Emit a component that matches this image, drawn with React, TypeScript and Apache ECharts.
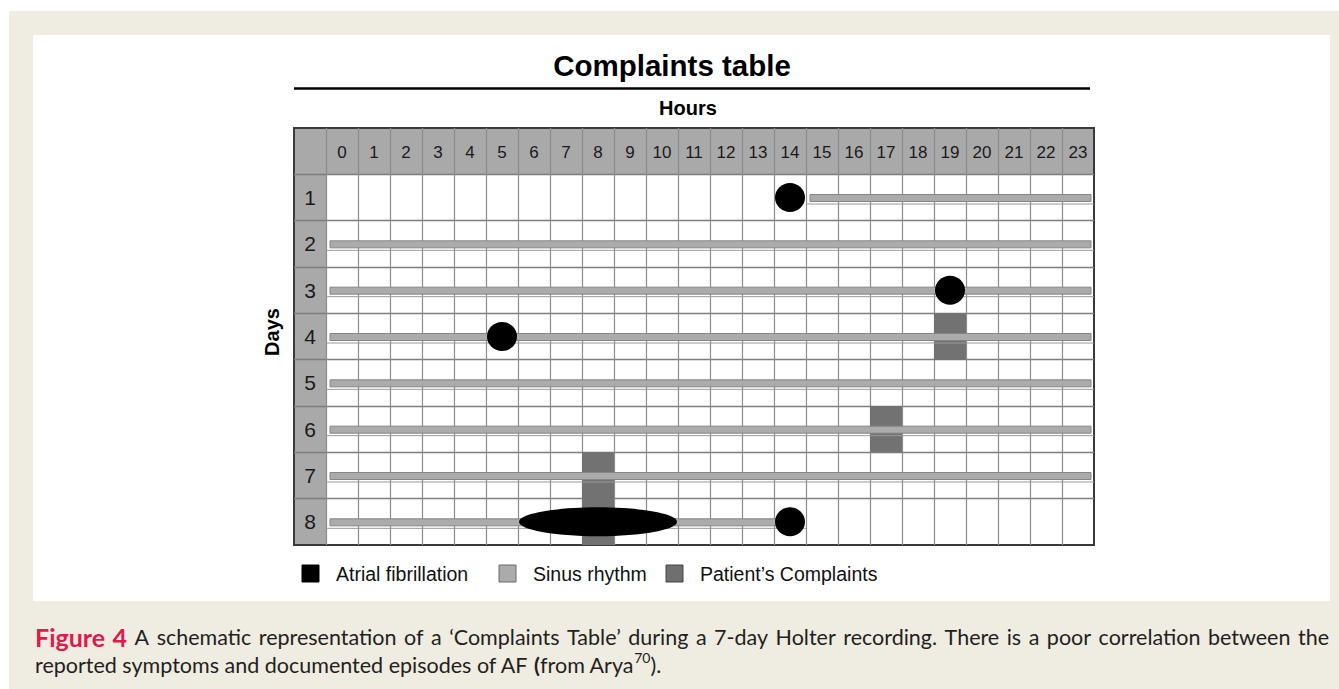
import React, { useEffect, useRef } from "react";
import * as echarts from "echarts";

// ---- tick labels ----
const hourLabels = ["", "0", "1", "2", "3", "4", "5", "6", "7", "8", "9", "10", "11", "12", "13", "14", "15", "16", "17", "18", "19", "20", "21", "22", "23"];
const dayLabels = ["", "1", "2", "3", "4", "5", "6", "7", "8"];

// ---- series values: [day, startHour, endHour] ----
const sinusRhythm = [
  [1, 15, 24],
  [2, 0, 24],
  [3, 0, 24],
  [4, 0, 24],
  [5, 0, 24],
  [6, 0, 24],
  [7, 0, 24],
  [8, 0, 14.3],
];
const atrialFibrillation = [
  [1, 14, 15],
  [3, 19, 20],
  [4, 5, 6],
  [8, 6, 11],
  [8, 14, 15],
];
// [day, hour]
const complaints = [
  [4, 19],
  [6, 17],
  [7, 8],
  [8, 8],
];

const legendItems = ["Atrial fibrillation", "Sinus rhythm", "Patient\u2019s Complaints"];
const captionLabel = ["Figure", "4"];
const captionLine1 =
  "A schematic representation of a \u2018Complaints Table\u2019 during a 7-day Holter recording. There is a poor correlation between the";
const captionLine2 = "reported symptoms and documented episodes of AF";

const SANS = "'Liberation Sans', Arial, Helvetica, sans-serif";
const CAP = "Lato, 'Open Sans', sans-serif";

function measure(text: string, font: string) {
  const c = document.createElement("canvas");
  const ctx = c.getContext("2d")!;
  ctx.font = font;
  return ctx.measureText(text).width;
}

export default function App() {
  const ref = useRef<HTMLDivElement>(null);

  useEffect(() => {
    const chart = echarts.init(ref.current!, null, { renderer: "svg" });

    // caption layout (justified first line)
    const capSize = 21.5;
    const fontN = `${capSize}px ${CAP}`;
    const fontB = `bold 25px ${CAP}`;
    const fontParen = `bold ${capSize}px ${CAP}`;
    const words: { t: string; b: boolean }[] = [
      ...captionLabel.map((t) => ({ t, b: true })),
      ...captionLine1.split(" ").map((t) => ({ t, b: false })),
    ];
    const capLeft = 35;
    const capRight = 1329;
    const widths = words.map((w) => measure(w.t, w.b ? fontB : fontN));
    const total = widths.reduce((a, b) => a + b, 0);
    const gap = (capRight - capLeft - total) / (words.length - 1);
    const captionEls: any[] = [];
    let cx = capLeft;
    words.forEach((w, i) => {
      captionEls.push({
        type: "text",
        x: cx,
        y: 637,
        style: {
          text: w.t,
          fill: w.b ? "#e0194b" : "#231f20",
          font: w.b ? fontB : fontN,
          textAlign: "left",
          textVerticalAlign: "middle",
        },
      });
      cx += widths[i] + gap;
    });
    const l2a = captionLine2 + " ";
    const wA = measure(l2a, fontN);
    const wParen = measure("(", fontParen);
    const wFrom = measure("from Arya", fontN);
    const supFont = `14px ${CAP}`;
    const wSup = measure("70", supFont);
    const y2 = 665;
    captionEls.push(
      { type: "text", x: capLeft, y: y2, style: { text: l2a, fill: "#231f20", font: fontN, textVerticalAlign: "middle" } },
      { type: "text", x: capLeft + wA, y: y2, style: { text: "(", fill: "#231f20", font: fontParen, textVerticalAlign: "middle" } },
      { type: "text", x: capLeft + wA + wParen, y: y2, style: { text: "from Arya", fill: "#231f20", font: fontN, textVerticalAlign: "middle" } },
      { type: "text", x: capLeft + wA + wParen + wFrom, y: y2 - 8, style: { text: "70", fill: "#231f20", font: supFont, textVerticalAlign: "middle" } },
      { type: "text", x: capLeft + wA + wParen + wFrom + wSup, y: y2, style: { text: ").", fill: "#231f20", font: fontN, textVerticalAlign: "middle" } }
    );

    const legendX = [302, 499, 666];
    const legendFill = ["#000000", "#ababab", "#6f6f6f"];
    const legendStroke = ["#000000", "#6a6a6a", "#444444"];
    const legendEls: any[] = [];
    legendItems.forEach((name, i) => {
      legendEls.push({
        type: "rect",
        shape: { x: legendX[i], y: 565, width: 17, height: 17 },
        style: { fill: legendFill[i], stroke: legendStroke[i], lineWidth: 1 },
      });
      legendEls.push({
        type: "text",
        x: legendX[i] + 34,
        y: 574,
        style: { text: name, fill: "#111", font: `19.5px ${SANS}`, textVerticalAlign: "middle" },
      });
    });

    const option: any = {
      animation: false,
      backgroundColor: "#ffffff",
      grid: {
        left: 294,
        top: 128,
        width: 800,
        height: 417,
        show: true,
        borderColor: "#3a3a3a",
        borderWidth: 2,
        backgroundColor: "transparent",
      },
      xAxis: [
        {
          type: "value",
          min: -1,
          max: 24,
          interval: 1,
          position: "bottom",
          axisLabel: { show: false },
          axisTick: { show: false },
          axisLine: { show: false },
          splitLine: { show: true, showMinLine: false, showMaxLine: false, lineStyle: { color: "#8c8c8c", width: 1.2 } },
        },
        {
          type: "category",
          data: hourLabels,
          position: "top",
          boundaryGap: true,
          axisTick: { show: false },
          axisLine: { show: false },
          splitLine: { show: false },
          axisLabel: {
            inside: true,
            interval: 0,
            margin: 24,
            verticalAlign: "middle",
            fontSize: 17,
            color: "#1a1a1a",
            fontFamily: SANS,
          },
        },
      ],
      yAxis: [
        {
          type: "value",
          min: -1,
          max: 8,
          interval: 1,
          inverse: true,
          position: "right",
          axisLabel: { show: false },
          axisTick: { show: false },
          axisLine: { show: false },
          splitLine: { show: true, showMinLine: false, showMaxLine: false, lineStyle: { color: "#7e7e7e", width: 1.4 } },
        },
        {
          type: "category",
          data: dayLabels,
          inverse: true,
          position: "left",
          boundaryGap: true,
          axisTick: { show: false },
          axisLine: { show: false },
          splitLine: { show: false },
          axisLabel: {
            inside: true,
            interval: 0,
            margin: 16,
            align: "center",
            fontSize: 21,
            color: "#1a1a1a",
            fontFamily: SANS,
          },
        },
      ],
      series: [
        {
          type: "custom",
          name: "headerCells",
          z: -1,
          xAxisIndex: 0,
          yAxisIndex: 0,
          data: hourLabels.map((_, i) => [i - 1]),
          renderItem: (params: any, api: any) => {
            const h = api.value(0);
            const p0 = api.coord([h, -1]);
            const p1 = api.coord([h + 1, 0]);
            return { type: "rect", shape: { x: p0[0], y: p0[1], width: p1[0] - p0[0], height: p1[1] - p0[1] }, style: { fill: "#a9a9a9" } };
          },
        },
        {
          type: "custom",
          name: "dayCells",
          z: -1,
          xAxisIndex: 0,
          yAxisIndex: 0,
          data: dayLabels.map((_, i) => [i]),
          renderItem: (params: any, api: any) => {
            const d = api.value(0);
            const p0 = api.coord([-1, d - 1]);
            const p1 = api.coord([0, d]);
            return { type: "rect", shape: { x: p0[0], y: p0[1], width: p1[0] - p0[0], height: p1[1] - p0[1] }, style: { fill: "#a9a9a9" } };
          },
        },
        {
          type: "custom",
          name: "Patient\u2019s Complaints",
          z: 2,
          xAxisIndex: 0,
          yAxisIndex: 0,
          data: complaints,
          renderItem: (params: any, api: any) => {
            const d = api.value(0);
            const h = api.value(1);
            const p0 = api.coord([h, d - 1]);
            const p1 = api.coord([h + 1, d]);
            return {
              type: "rect",
              shape: { x: p0[0], y: p0[1], width: p1[0] - p0[0], height: p1[1] - p0[1] },
              style: { fill: "#727272" },
            };
          },
        },
        {
          type: "custom",
          name: "Sinus rhythm",
          z: 3,
          xAxisIndex: 0,
          yAxisIndex: 0,
          data: sinusRhythm,
          renderItem: (params: any, api: any) => {
            const d = api.value(0);
            const s = api.value(1);
            const e = api.value(2);
            const p0 = api.coord([s, d - 0.5]);
            const p1 = api.coord([e, d - 0.5]);
            const yc = p0[1] + 0.5;
            return {
              type: "group",
              children: [
                {
                  type: "line",
                  shape: { x1: api.coord([Math.floor(s), 0])[0], y1: yc + 6, x2: api.coord([Math.ceil(e), 0])[0], y2: yc + 6 },
                  style: { stroke: "#9a9a9a", lineWidth: 1 },
                },
                {
                  type: "rect",
                  shape: { x: p0[0] + 4, y: yc - 3.5, width: p1[0] - p0[0] - 7, height: 7 },
                  style: { fill: "#ababab", stroke: "#858585", lineWidth: 1 },
                },
              ],
            };
          },
        },
        {
          type: "custom",
          name: "Atrial fibrillation",
          z: 4,
          xAxisIndex: 0,
          yAxisIndex: 0,
          data: atrialFibrillation,
          renderItem: (params: any, api: any) => {
            const d = api.value(0);
            const s = api.value(1);
            const e = api.value(2);
            const p0 = api.coord([s, d - 0.5]);
            const p1 = api.coord([e, d - 0.5]);
            return {
              type: "ellipse",
              shape: { cx: (p0[0] + p1[0]) / 2, cy: p0[1], rx: (p1[0] - p0[0] - 2) / 2, ry: 14.5 },
              style: { fill: "#000000" },
            };
          },
        },
      ],
      graphic: [
        { type: "rect", z: -100, shape: { x: 9, y: 11, width: 1330, height: 678 }, style: { fill: "#efece2" } },
        { type: "rect", z: -99, shape: { x: 33, y: 35, width: 1297, height: 566 }, style: { fill: "#ffffff" } },
        {
          type: "text",
          x: 672,
          y: 65,
          style: { text: "Complaints table", fill: "#000", font: `bold 29.5px ${SANS}`, textAlign: "center", textVerticalAlign: "middle" },
        },
        { type: "line", shape: { x1: 294, y1: 88.5, x2: 1090, y2: 88.5 }, style: { stroke: "#000", lineWidth: 2.5 } },
        {
          type: "text",
          x: 688,
          y: 108,
          style: { text: "Hours", fill: "#000", font: `bold 20px ${SANS}`, textAlign: "center", textVerticalAlign: "middle" },
        },
        {
          type: "text",
          x: 272,
          y: 332,
          rotation: Math.PI / 2,
          style: { text: "Days", fill: "#000", font: `bold 20px ${SANS}`, textAlign: "center", textVerticalAlign: "middle" },
        },
        ...legendEls,
        ...captionEls,
      ],
    };

    chart.setOption(option);
    return () => chart.dispose();
  }, []);

  return <div ref={ref} style={{ position: "fixed", left: 0, top: 0, width: 1339, height: 689 }} />;
}
